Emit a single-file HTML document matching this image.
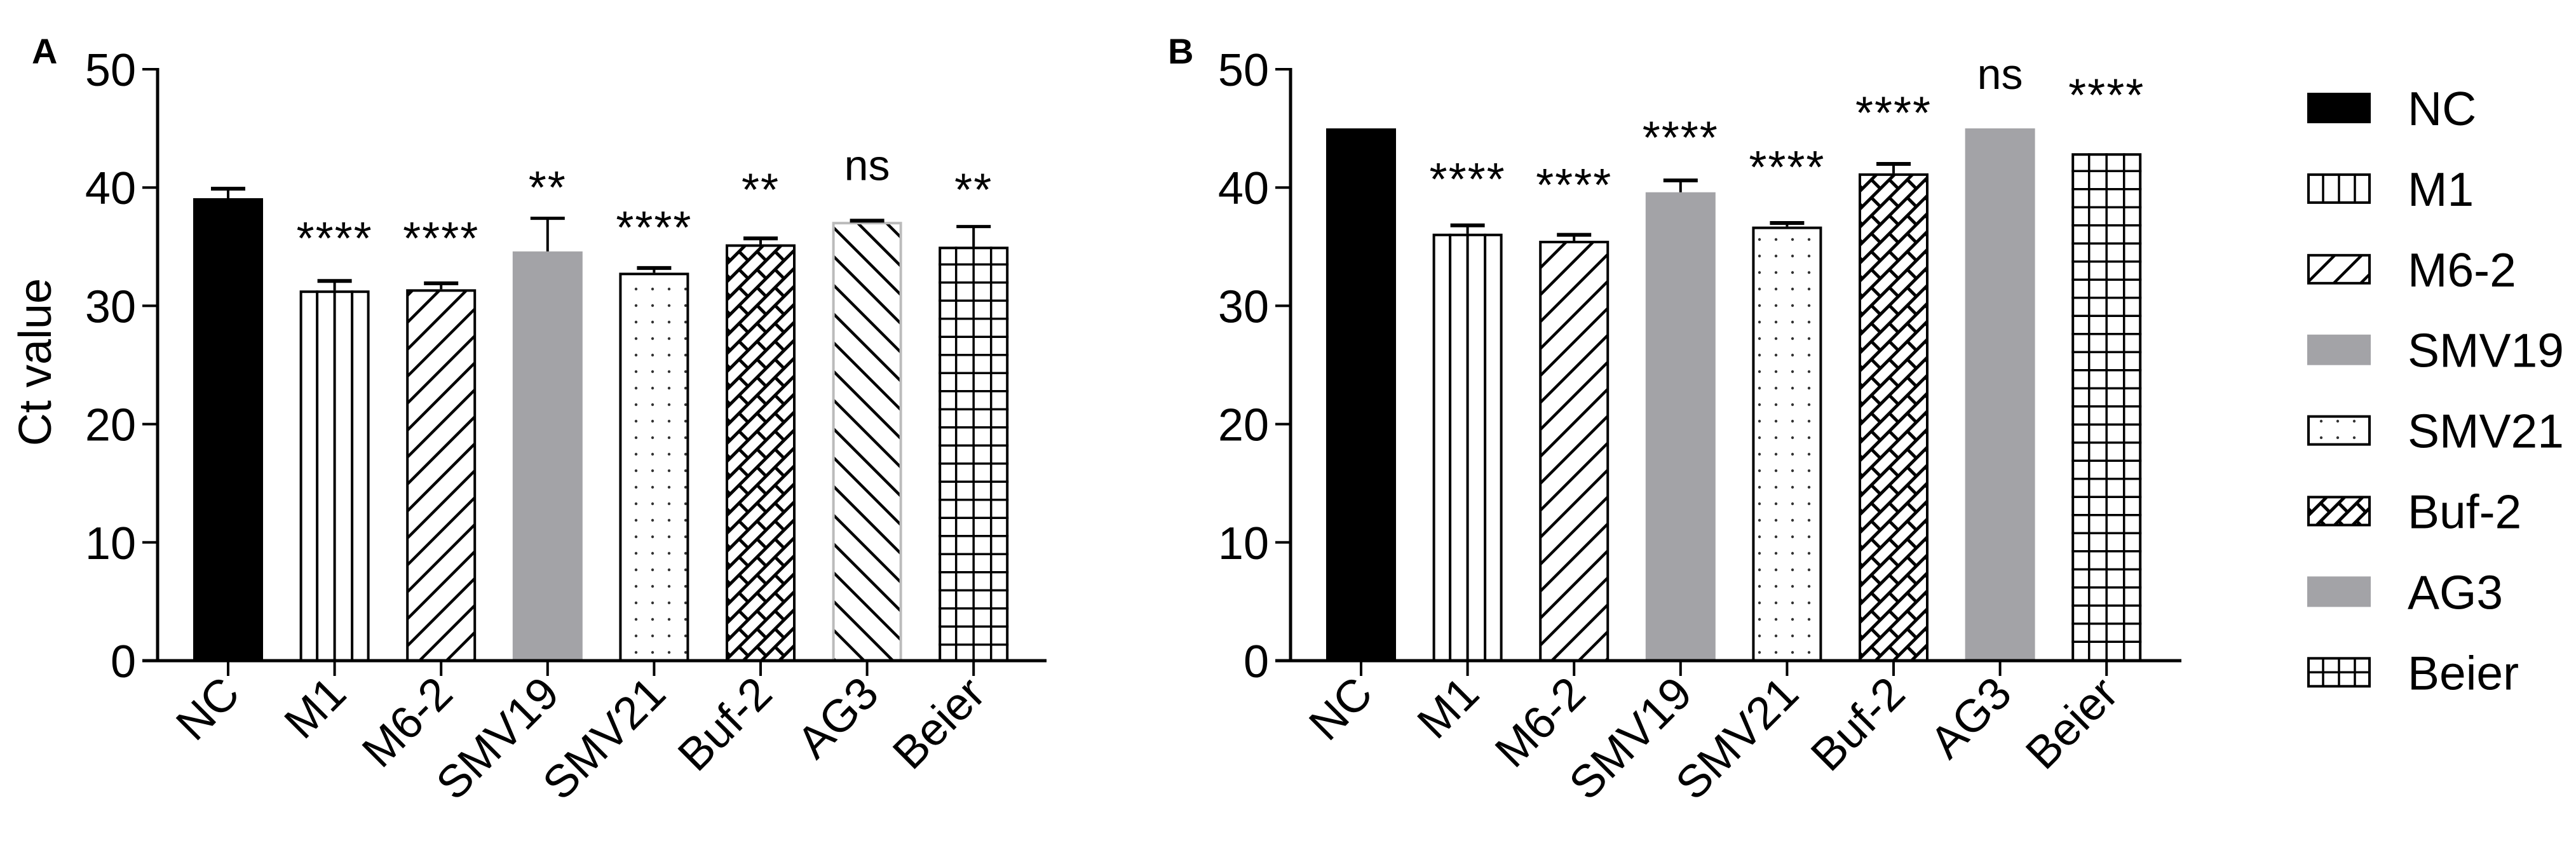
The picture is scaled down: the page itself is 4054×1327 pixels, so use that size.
<!DOCTYPE html>
<html><head><meta charset="utf-8"><style>
html,body{margin:0;padding:0;background:#fff;}
svg{display:block;font-family:"Liberation Sans",sans-serif;}
</style></head><body>
<svg id="chart" width="4054" height="1327" viewBox="0 0 4054 1327" xmlns="http://www.w3.org/2000/svg">
<defs>
<pattern id="p-diag" patternUnits="userSpaceOnUse" width="30" height="30" patternTransform="rotate(45)">
<rect width="30" height="30" fill="#fff"/><rect x="0" y="0" width="4.5" height="30" fill="#000"/></pattern>
<pattern id="p-back" patternUnits="userSpaceOnUse" width="32" height="32" patternTransform="rotate(-45)">
<rect width="32" height="32" fill="#fff"/><rect x="0" y="0" width="4.5" height="32" fill="#000"/></pattern>
<pattern id="p-dots" patternUnits="userSpaceOnUse" width="26" height="26">
<rect width="26" height="26" fill="#fff"/><circle cx="13" cy="13" r="2.2" fill="#333"/></pattern>
<pattern id="p-brick" patternUnits="userSpaceOnUse" width="40" height="40" patternTransform="rotate(-45)">
<rect width="40" height="40" fill="#fff"/><rect x="0" y="0" width="40" height="5" fill="#000"/><rect x="0" y="20" width="40" height="5" fill="#000"/>
<rect x="0" y="0" width="5" height="20" fill="#000"/><rect x="20" y="20" width="5" height="20" fill="#000"/></pattern>
</defs>
<g id="root"></g>
</svg>
<script>
const categories = ["NC","M1","M6-2","SMV19","SMV21","Buf-2","AG3","Beier"];
const valuesA = [39.1,31.3,31.4,34.6,32.8,35.2,37.1,35.0];
const errorsA = [39.9,32.1,31.9,37.4,33.2,35.7,37.2,36.7];
const sigA = ["","****","****","**","****","**","ns","**"];
const sigPosA = [0,36.2,36.2,40.5,37.1,40.3,41.7,40.3];
const valuesB = [45.0,36.1,35.5,39.6,36.7,41.2,45.0,42.9];
const errorsB = [45.0,36.8,36.0,40.6,37.0,42.0,45.0,42.9];
const sigB = ["","****","****","****","****","****","ns","****"];
const sigPosB = [0,41.2,40.7,44.7,42.2,46.8,49.4,48.3];
const yTicks = [0,10,20,30,40,50];

const NS="http://www.w3.org/2000/svg";
const root=document.getElementById('root');
function el(tag,attrs,parent){const e=document.createElementNS(NS,tag);for(const k in attrs)e.setAttribute(k,attrs[k]);(parent||root).appendChild(e);return e;}
const Y0=1040, Y50=109;
function yScale(v){return Y0-(Y0-Y50)*v/50;}
const GRAY="#a3a3a7";

function drawPanel(p){
  const g=el('g',{});
  
  
  const xScale=i=>p.x0+i*167.6;
  const bw=110;
  const L=el('text',{x:p.letterX,y:100,'font-size':56,'font-weight':'bold'},g);L.textContent=p.letter;
  
  
  categories.forEach((c,i)=>{
    const v=p.values[i], cx=xScale(i), x=cx-bw/2, y=yScale(v), h=Y0-y;
    const bg=el('g',{},g);
    
    
    const style=p.styles[i];
    let fill='#fff',stroke='#000';
    if(style==='solid'){fill='#000';}
    else if(style==='gray'){fill=GRAY;stroke=GRAY;}
    else if(style==='diag')fill='url(#p-diag)';
    else if(style==='back'){fill='url(#p-back)';stroke='#bbb';}
    else if(style==='dots')fill='url(#p-dots)';
    else if(style==='brick')fill='url(#p-brick)';
    el('rect',{x:x+2,y:y+2,width:bw-4,height:h-2,fill:fill,stroke:stroke,'stroke-width':4},bg);
    if(style==='vert'){for(let k=1;k<4;k++){el('line',{x1:x+bw*k/4,x2:x+bw*k/4,y1:y,y2:Y0,stroke:'#000','stroke-width':4},bg);}}
    if(style==='grid'){
      for(let k=1;k<4;k++){el('line',{x1:x+bw*k/4,x2:x+bw*k/4,y1:y,y2:Y0,stroke:'#000','stroke-width':3.5},bg);}
      for(let yy=y+28;yy<Y0-5;yy+=28.5){el('line',{x1:x,x2:x+bw,y1:yy,y2:yy,stroke:'#000','stroke-width':3.5},bg);}
    }
    const e=p.errors[i];
    if(e>v+0.05){
      const eb=el('g',{},g);
      
      
      el('line',{x1:cx,x2:cx,y1:yScale(e),y2:y,stroke:'#000','stroke-width':4},eb);
      el('line',{x1:cx-27,x2:cx+27,y1:yScale(e),y2:yScale(e),stroke:'#000','stroke-width':(e-v>1?5:6)},eb);
    }
    if(p.sig[i]){
      const s=p.sig[i], isNs=s==='ns';
      const t=el('text',{x:cx,y:yScale(p.sigPos[i])+(isNs?20:34),'text-anchor':'middle','font-size':isNs?68:72,'letter-spacing':isNs?0:2},g);
      t.textContent=s;
      
      
    }
    el('line',{x1:cx,x2:cx,y1:Y0,y2:Y0+24,stroke:'#000','stroke-width':4},g);
    const lx=cx+22, ly=Y0+56;
    const xl=el('text',{x:lx,y:ly,'text-anchor':'end','font-size':72,transform:`rotate(-45 ${lx} ${ly})`},g);
    xl.textContent=c;
    
    
  });
  const ax=el('g',{},g);
  
  
  el('line',{x1:p.axisX,x2:p.axisX,y1:Y50-2,y2:Y0+2,stroke:'#000','stroke-width':5},ax);
  yTicks.forEach(t=>{
    el('line',{x1:p.axisX-24,x2:p.axisX,y1:yScale(t),y2:yScale(t),stroke:'#000','stroke-width':4},ax);
    const tl=el('text',{x:p.axisX-34,y:yScale(t)+26,'text-anchor':'end','font-size':72},ax);
    tl.textContent=t;
    
    
  });
  const xa=el('line',{x1:p.axisX-24,x2:p.axisEnd,y1:Y0,y2:Y0,stroke:'#000','stroke-width':5},g);
  
  
}

drawPanel({name:'panel-a',letter:'A',letterX:50,x0:359,axisX:248,axisEnd:1647,values:valuesA,errors:errorsA,sig:sigA,sigPos:sigPosA,
  styles:['solid','vert','diag','gray','dots','brick','back','grid']});
drawPanel({name:'panel-b',letter:'B',letterX:1838,x0:2142,axisX:2031,axisEnd:3433,values:valuesB,errors:errorsB,sig:sigB,sigPos:sigPosB,
  styles:['solid','vert','diag','gray','dots','brick','gray','grid']});

const yt=el('text',{x:0,y:0,'text-anchor':'middle','font-size':72,transform:'translate(80 570) rotate(-90)'});
yt.textContent='Ct value';



const legendStyles=['solid','vert','diag','gray','dots','brick','gray','grid'];
const lg=el('g',{});


categories.forEach((c,i)=>{
  const cy=170+i*126.9;
  const eg=el('g',{},lg);
  
  
  const st=legendStyles[i];
  let fill='#fff',stroke='#000';
  if(st==='solid')fill='#000';
  else if(st==='gray'){fill=GRAY;stroke=GRAY;}
  else if(st==='diag')fill='url(#p-diag)';
  else if(st==='dots')fill='url(#p-dots)';
  else if(st==='brick')fill='url(#p-brick)';
  el('rect',{x:3633,y:cy-22,width:96,height:44,fill:fill,stroke:stroke,'stroke-width':4},eg);
  if(st==='vert'||st==='grid'){for(let k=1;k<4;k++)el('line',{x1:3631+25*k,x2:3631+25*k,y1:cy-22,y2:cy+22,stroke:'#000','stroke-width':3.5},eg);}
  if(st==='grid')el('line',{x1:3631,x2:3731,y1:cy,y2:cy,stroke:'#000','stroke-width':3.5},eg);
  const t=el('text',{x:3789,y:cy+27,'font-size':75},eg);
  t.textContent=c;
});
</script>
</body></html>
